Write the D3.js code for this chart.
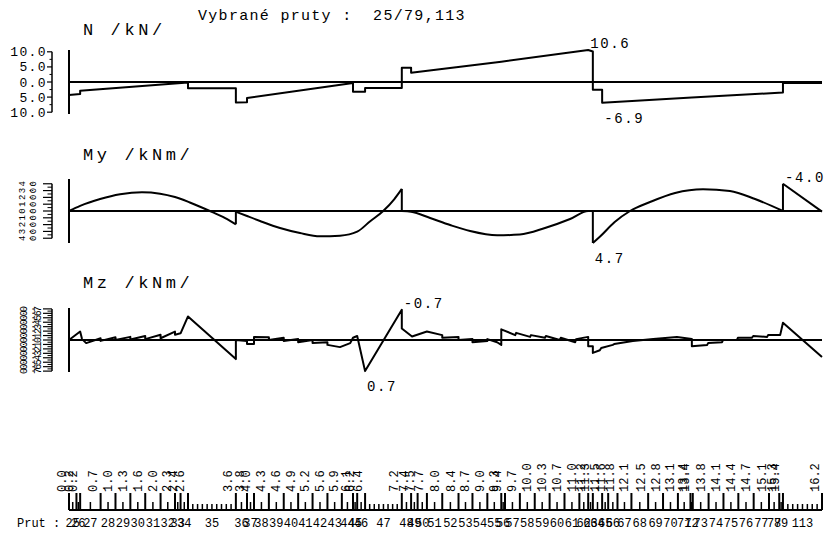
<!DOCTYPE html>
<html>
<head>
<meta charset="utf-8">
<script src="https://cdn.jsdelivr.net/npm/d3@7/dist/d3.min.js"></script>
<style>
html,body{margin:0;padding:0;background:#fff;}
svg{display:block;}
text{font-family:"Liberation Mono","Courier New",monospace;fill:#000;white-space:pre;}
</style>
</head>
<body>
<svg id="chart" width="830" height="534"></svg>
<script>
// ---------------- data ----------------
const chartTitle = "Vybrané pruty :  25/79,113";
const memberPrefix = "Prut :";

// member end positions along the selected members [m]
const nodes = [0.00,0.16,0.24,0.68,1.00,1.32,1.64,1.97,2.28,2.40,2.56,3.59,3.83,3.98,4.30,4.62,4.93,5.24,5.56,5.87,
  6.11,6.20,6.37,7.16,7.36,7.50,7.70,8.03,8.38,8.68,9.00,9.30,9.38,9.70,10.02,10.34,10.66,10.98,11.17,11.27,
  11.47,11.60,11.80,12.10,12.46,12.78,13.10,13.37,13.42,13.76,14.08,14.40,14.73,15.06,15.28,15.36,16.20];

// member numbers
const members = [25,26,27,28,29,30,31,32,33,34,35,36,37,38,39,40,41,42,43,44,45,46,47,48,49,50,51,52,53,54,
  55,56,57,58,59,60,61,62,63,64,65,66,67,68,69,70,71,72,73,74,75,76,77,78,79,113];

// number of computation sections on long members (others: 2)
const memberSections = {35:10, 47:8, 113:8};

// N /kN/  (x [m], value)
const nTitle = "N /kN/";
const nTicks = [10,5,0,-5,-10];
const nValues = [[0.00,-4.3],[0.24,-4.0],[0.24,-2.9],[2.56,-0.2],[2.56,-2.1],[3.59,-2.1],[3.59,-6.8],[3.83,-6.7],
  [3.83,-5.3],[6.11,-0.3],[6.11,-3.2],[6.37,-3.2],[6.37,-2.0],[7.16,-2.0],[7.16,4.7],[7.36,4.7],[7.36,3.1],
  [9.30,6.7],[11.17,10.6],[11.27,10.1],[11.27,-2.6],[11.47,-2.6],[11.47,-6.9],[13.40,-5.1],[15.36,-3.5],
  [15.36,-0.3],[16.20,-0.3]];

// My /kNm/ (continuous pieces between jumps)
const myTitle = "My /kNm/";
const myTicks = [-4,-3,-2,-1,0,1,2,3,4];
const mySegments = [
  [[0.00,0.00],[0.24,-0.75],[0.67,-1.75],[1.10,-2.45],[1.57,-2.75],[1.96,-2.55],[2.28,-2.05],[2.60,-1.25],[3.03,0.00],[3.36,1.05],[3.59,1.95]],
  [[3.59,0.10],[3.83,0.74],[4.11,1.47],[4.54,2.50],[4.97,3.24],[5.40,3.72],[5.83,3.63],[6.20,3.04],[6.48,1.50],[6.76,0.00],[7.00,-1.75],[7.16,-3.24]],
  [[7.16,0.00],[7.36,0.10],[7.77,1.03],[8.20,2.06],[8.63,2.94],[9.21,3.57],[9.70,3.46],[10.24,2.50],[10.78,1.18],[11.17,0.00],[11.27,0.00]],
  [[11.27,4.70],[11.42,3.78],[11.74,1.62],[12.07,0.00],[12.50,-1.32],[13.04,-2.65],[13.64,-3.19],[14.22,-2.94],[14.76,-1.76],[15.36,0.00]],
  [[15.36,-4.00],[16.20,0.10]]
];

// Mz /kNm/
const mzTitle = "Mz /kNm/";
const mzTicks = [-0.7,-0.6,-0.5,-0.4,-0.3,-0.2,-0.1,0,0.1,0.2,0.3,0.4,0.5,0.6,0.7];
const mzValues = [[0.00,0.00],[0.24,-0.19],[0.28,-0.02],[0.37,0.07],[0.68,-0.04],[0.68,0.02],[1.00,-0.06],[1.00,0.00],
  [1.32,-0.07],[1.32,-0.01],[1.64,-0.09],[1.64,-0.02],[1.97,-0.12],[1.97,-0.04],[2.28,-0.19],[2.28,-0.12],[2.40,-0.15],
  [2.56,-0.53],[3.59,0.43],[3.59,0.00],[3.83,0.02],[3.83,0.09],[3.98,0.09],[3.98,-0.07],[4.30,-0.06],[4.30,0.00],
  [4.62,-0.05],[4.62,0.02],[4.93,-0.02],[4.93,0.05],[5.24,0.00],[5.24,0.07],[5.56,0.05],[5.56,0.11],[5.83,0.16],
  [6.05,0.07],[6.11,-0.05],[6.20,-0.09],[6.37,0.70],[7.16,-0.68],[7.16,-0.26],[7.38,-0.08],[7.70,-0.19],[8.03,-0.11],
  [8.03,-0.05],[8.38,-0.07],[8.38,0.00],[8.68,-0.02],[8.68,0.05],[9.00,0.02],[9.00,-0.02],[9.21,0.05],[9.30,0.11],
  [9.30,-0.24],[9.60,-0.11],[9.62,-0.16],[9.92,-0.07],[9.94,-0.11],[10.24,-0.05],[10.26,-0.09],[10.56,0.00],
  [10.58,-0.05],[10.89,0.05],[10.91,-0.02],[11.17,-0.07],[11.17,0.14],[11.27,0.14],[11.27,0.29],[11.42,0.23],
  [11.45,0.18],[11.70,0.11],[11.73,0.09],[12.13,0.02],[12.57,-0.02],[13.08,-0.07],[13.40,-0.02],[13.40,0.14],
  [13.73,0.11],[13.75,0.07],[14.05,0.05],[14.07,0.00],[14.37,0.00],[14.39,-0.05],[14.69,-0.05],[14.72,-0.09],
  [15.02,-0.07],[15.04,-0.11],[15.30,-0.11],[15.36,-0.39],[16.20,0.38]];

// ---------------- drawing ----------------
const svg = d3.select("#chart");
const X0 = 69, X1 = 822, HALF = 32, BAR = 52;
const x = d3.scaleLinear().domain([0, nodes[nodes.length - 1]]).range([X0, X1]);

svg.append("text").attr("x", 198).attr("y", 20).attr("font-size", 15).attr("letter-spacing", 1.3)
  .attr("xml:space", "preserve").text(chartTitle);

function fmt(v) { return (Math.abs(v) < 1e-9 ? 0 : v).toFixed(1); }

function drawPanel(cfg) {
  const g = svg.append("g");
  const y = cfg.y;
  const zero = y(0);
  g.append("text").attr("x", 83).attr("y", cfg.titleY).attr("font-size", 17).attr("letter-spacing", 3.6)
    .attr("xml:space", "preserve").text(cfg.title);

  // scale bar
  const tks = cfg.ticks;
  g.append("line").attr("x1", BAR).attr("x2", BAR)
    .attr("y1", y(d3.min(tks))).attr("y2", y(d3.max(tks)))
    .attr("stroke", "#000").attr("stroke-width", 1.5);
  g.selectAll(null).data(tks).enter().append("line")
    .attr("x1", cfg.majorLen).attr("x2", BAR).attr("y1", d => y(d)).attr("y2", d => y(d))
    .attr("stroke", "#000").attr("stroke-width", 1.2);
  const minors = d3.pairs(tks).map(p => (p[0] + p[1]) / 2);
  g.selectAll(null).data(minors).enter().append("line")
    .attr("x1", cfg.minorLen).attr("x2", BAR).attr("y1", d => y(d)).attr("y2", d => y(d))
    .attr("stroke", "#000").attr("stroke-width", 1);

  if (!cfg.rotatedLabels) {
    g.selectAll(null).data(tks).enter().append("text")
      .attr("x", 47).attr("y", d => y(d) + 4.5).attr("text-anchor", "end")
      .attr("font-size", 13).attr("letter-spacing", 1.4).text(d => fmt(Math.abs(d)));
  } else {
    tks.forEach(t => {
      const s = fmt(Math.abs(t));
      s.split("").forEach((ch, i) => {
        const cx = cfg.lblX + i * cfg.lblStep, cy = y(t);
        g.append("g").attr("transform", `translate(${cx},${cy}) rotate(-90)`)
          .append("text").attr("x", 0).attr("y", 0).attr("text-anchor", "middle")
          .attr("dominant-baseline", "central").attr("font-size", cfg.lblSize).text(ch);
      });
    });
  }

  // vertical start line and zero line
  g.append("line").attr("x1", X0).attr("x2", X0).attr("y1", zero - HALF).attr("y2", zero + HALF)
    .attr("stroke", "#000").attr("stroke-width", 2);
  g.append("line").attr("x1", X0).attr("x2", X1).attr("y1", zero).attr("y2", zero)
    .attr("stroke", "#000").attr("stroke-width", 2);

  // data
  const segs = cfg.segments;
  const all = segs.flat();
  segs.forEach(seg => {
    g.append("path").datum(seg)
      .attr("d", d3.line().x(d => x(d[0])).y(d => y(d[1])).curve(cfg.curve)(seg))
      .attr("fill", "none").attr("stroke", "#000").attr("stroke-width", 2).attr("stroke-linejoin", "round");
  });
  d3.pairs(segs).forEach(([a, b]) => {
    const p = a[a.length - 1], q = b[0];
    g.append("line").attr("x1", x(p[0])).attr("x2", x(q[0])).attr("y1", y(p[1])).attr("y2", y(q[1]))
      .attr("stroke", "#000").attr("stroke-width", 2);
  });

  // extreme value labels
  const hi = all.reduce((m, d) => y(d[1]) < y(m[1]) ? d : m, all[0]);
  const lo = all.reduce((m, d) => y(d[1]) > y(m[1]) ? d : m, all[0]);
  g.append("text").attr("x", x(hi[0]) + 2).attr("y", y(hi[1]) - 2)
    .attr("font-size", 14).attr("letter-spacing", 1.6).text(fmt(hi[1]));
  g.append("text").attr("x", x(lo[0]) + 2).attr("y", y(lo[1]) + 20)
    .attr("font-size", 14).attr("letter-spacing", 1.6).text(fmt(lo[1]));
}

drawPanel({
  title: nTitle, titleY: 35, ticks: nTicks,
  y: d3.scaleLinear().domain([-10.6, 10.6]).range([82 + HALF, 82 - HALF]),
  majorLen: 47, minorLen: 49.5, rotatedLabels: false,
  segments: [nValues], curve: d3.curveLinear
});
drawPanel({
  title: myTitle, titleY: 160, ticks: myTicks,
  y: d3.scaleLinear().domain([-4.7, 4.7]).range([211 - HALF, 211 + HALF]),
  majorLen: 43, minorLen: 47.5, rotatedLabels: true, lblX: 23, lblStep: 5.5, lblSize: 9,
  segments: mySegments, curve: d3.curveMonotoneX
});
drawPanel({
  title: mzTitle, titleY: 288, ticks: mzTicks,
  y: d3.scaleLinear().domain([-0.72, 0.72]).range([340 - HALF, 340 + HALF]),
  majorLen: 43, minorLen: 47.5, rotatedLabels: true, lblX: 24, lblStep: 7, lblSize: 10,
  segments: [mzValues], curve: d3.curveLinear
});

// ---------------- member axis ----------------
const AX_Y = 510;
const ax = svg.append("g");
ax.append("line").attr("x1", X0).attr("x2", X1).attr("y1", AX_Y).attr("y2", AX_Y)
  .attr("stroke", "#000").attr("stroke-width", 2);
ax.selectAll(null).data(nodes).enter().append("line")
  .attr("x1", d => x(d)).attr("x2", d => x(d)).attr("y1", AX_Y - 17).attr("y2", AX_Y)
  .attr("stroke", "#000").attr("stroke-width", 2);
members.forEach((m, i) => {
  const a = nodes[i], b = nodes[i + 1];
  const n = memberSections[m] || 2;
  for (let k = 1; k < n; k++) {
    const p = a + (b - a) * k / n;
    ax.append("line").attr("x1", x(p)).attr("x2", x(p)).attr("y1", AX_Y - (n === 2 ? 8 : 6)).attr("y2", AX_Y)
      .attr("stroke", "#000").attr("stroke-width", 1.5);
  }
  ax.append("text").attr("x", x((a + b) / 2)).attr("y", 527).attr("text-anchor", "middle")
    .attr("font-size", 12).text(m);
});
ax.selectAll(null).data(nodes).enter().append("text")
  .attr("transform", d => `translate(${x(d) - 3.5},${AX_Y - 18}) rotate(-90)`)
  .attr("font-size", 12).text(d => fmt(d));
ax.append("text").attr("x", 17).attr("y", 527).attr("font-size", 12).attr("xml:space", "preserve").text(memberPrefix);
</script>
</body>
</html>
